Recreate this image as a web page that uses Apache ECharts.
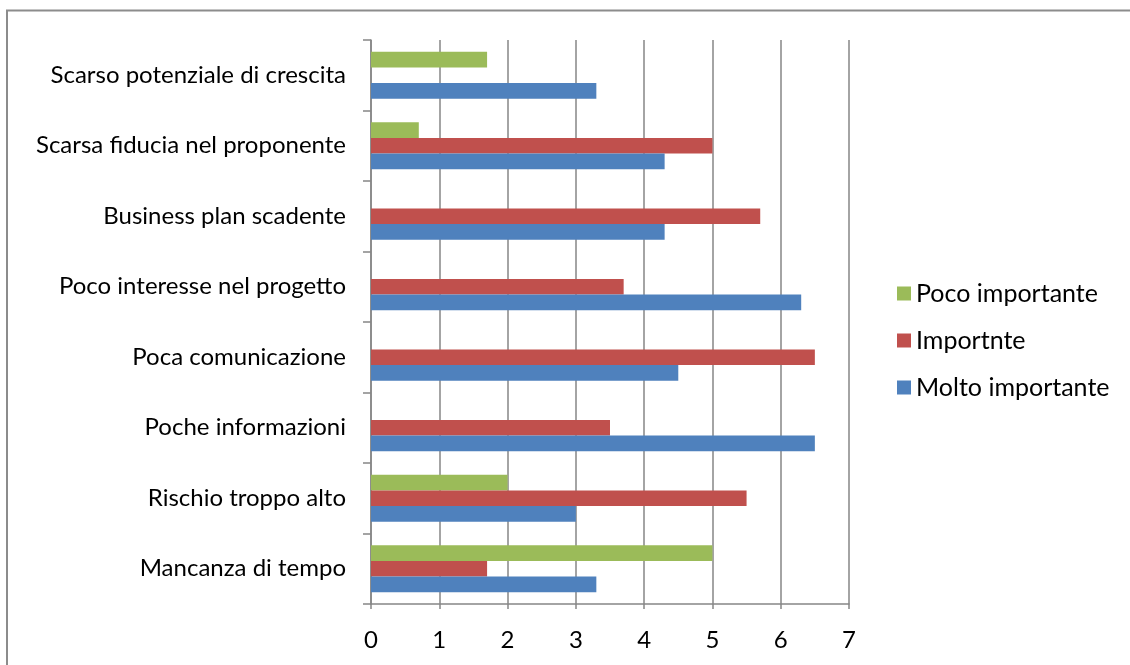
<!DOCTYPE html>
<html>
<head>
<meta charset="utf-8">
<script src="https://cdn.jsdelivr.net/npm/echarts@6/dist/echarts.min.js"></script>
<style>
  html, body { margin: 0; padding: 0; background: #fff; }
  #chart { width: 1130px; height: 665px; }
</style>
</head>
<body>
<div id="chart"></div>
<script>
// categories, bottom to top as on the axis
const categories = [
  'Mancanza di tempo',
  'Rischio troppo alto',
  'Poche informazioni',
  'Poca comunicazione',
  'Poco interesse nel progetto',
  'Business plan scadente',
  'Scarsa fiducia nel proponente',
  'Scarso potenziale di crescita'
]
const moltoImportante = [3.3, 3, 6.5, 4.5, 6.3, 4.3, 4.3, 3.3]
const importnte = [1.7, 5.5, 3.5, 6.5, 3.7, 5.7, 5, null]
const pocoImportante = [5, 2, null, null, null, null, 0.7, 1.7]
const xTicks = [0, 1, 2, 3, 4, 5, 6, 7]

const FONT = 'Lato'
const chart = echarts.init(document.getElementById('chart'))

chart.setOption({
  animation: false,
  textStyle: { fontFamily: FONT },
  graphic: [{
    type: 'rect',
    shape: { x: 7, y: 10.5, width: 1300, height: 800 },
    style: { fill: 'none', stroke: '#8c8c8c', lineWidth: 2 },
    silent: true
  }],
  legend: {
    orient: 'vertical',
    left: 897,
    top: 281,
    padding: 0,
    itemWidth: 14,
    itemHeight: 14,
    itemGap: 22,
    icon: 'rect',
    data: ['Poco importante', 'Importnte', 'Molto importante'],
    textStyle: { fontFamily: FONT, fontSize: 25, lineHeight: 25, color: '#000', padding: [0, 0, 0, 0] }
  },
  grid: { left: 371, right: 281, top: 40, bottom: 61 },
  xAxis: {
    type: 'value',
    min: 0,
    max: 7,
    interval: 1,
    axisLine: { show: true, lineStyle: { color: '#868686', width: 1.5 } },
    axisTick: { show: true, length: 5, lineStyle: { color: '#868686', width: 1.5 } },
    axisLabel: {
      margin: 24,
      fontFamily: FONT,
      fontSize: 24,
      color: '#000',
      formatter: v => xTicks.includes(v) ? String(v) : ''
    },
    splitLine: { show: true, lineStyle: { color: '#868686', width: 1.5 } }
  },
  yAxis: {
    type: 'category',
    data: categories,
    axisLine: { show: true, lineStyle: { color: '#868686', width: 1.5 } },
    axisTick: { show: true, length: 8, lineStyle: { color: '#868686', width: 1.5 } },
    axisLabel: { margin: 25, fontFamily: FONT, fontSize: 24, color: '#000' },
    splitLine: { show: false }
  },
  series: [
    {
      name: 'Poco importante',
      type: 'bar',
      data: pocoImportante,
      barGap: '0%',
      barCategoryGap: '33%',
      itemStyle: { color: '#9bbb59' }
    },
    {
      name: 'Importnte',
      type: 'bar',
      data: importnte,
      itemStyle: { color: '#c0504d' }
    },
    {
      name: 'Molto importante',
      type: 'bar',
      data: moltoImportante,
      itemStyle: { color: '#4f81bd' }
    }
  ]
})
</script>
</body>
</html>
